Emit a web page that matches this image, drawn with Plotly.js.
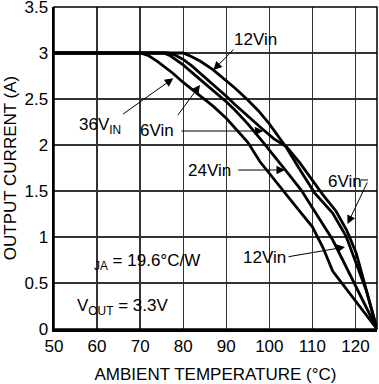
<!DOCTYPE html>
<html><head><meta charset="utf-8">
<script src="https://cdn.plot.ly/plotly-3.0.1.min.js"></script>
<style>html,body{margin:0;padding:0;background:#fff;} #chart{width:379px;height:384px;}</style>
</head><body><div id="chart"></div>
<script>
const xTickVals = [50, 60, 70, 80, 90, 100, 110, 120];
const yTickVals = [0, 0.5, 1, 1.5, 2, 2.5, 3, 3.5];
const yTickText = ['0', '0.5', '1', '1.5', '2', '2.5', '3', '3.5'];

const temp12Vin = [50, 80, 82, 84, 86.9, 90, 92, 95, 97.5, 100, 102, 104, 107, 110.5, 114.7, 117.8, 122.5, 125];
const curr12Vin = [3, 3, 2.96, 2.91, 2.82, 2.70, 2.62, 2.49, 2.37, 2.23, 2.10, 1.97, 1.74, 1.48, 1.26, 1.01, 0.42, 0];

const temp6Vin = [50, 76.5, 78, 80, 82, 84, 86, 88, 90, 92, 95, 98, 101, 104, 107, 110, 112.4, 115.5, 118, 120.2, 125];
const curr6Vin = [3, 3, 2.98, 2.93, 2.86, 2.78, 2.70, 2.62, 2.53, 2.44, 2.31, 2.19, 2.07, 1.98, 1.81, 1.61, 1.46, 1.28, 1.07, 0.82, 0];

const temp24Vin = [50, 75.5, 77, 80, 82, 84, 86, 88, 90, 92, 95, 98, 100, 103.7, 107.4, 111, 114.7, 125];
const curr24Vin = [3, 3, 2.97, 2.87, 2.79, 2.71, 2.63, 2.56, 2.47, 2.38, 2.23, 2.06, 1.94, 1.73, 1.51, 1.24, 0.97, 0];

const temp36Vin = [50, 70, 72, 74, 77.6, 80, 83.8, 87, 90, 93, 95, 97.8, 100, 103, 106, 110, 112.5, 114.7, 125];
const curr36Vin = [3, 3, 2.97, 2.91, 2.78, 2.68, 2.54, 2.42, 2.29, 2.14, 2.03, 1.82, 1.69, 1.51, 1.34, 1.11, 0.88, 0.63, 0];

const FONT = 'Liberation Sans, Arial, Helvetica, sans-serif';
const lineStyle = {color: '#000', width: 2.8};

const traces = [
  {x: temp12Vin, y: curr12Vin, name: '12Vin'},
  {x: temp6Vin, y: curr6Vin, name: '6Vin'},
  {x: temp24Vin, y: curr24Vin, name: '24Vin'},
  {x: temp36Vin, y: curr36Vin, name: '36Vin'}
].map(t => Object.assign(t, {type: 'scatter', mode: 'lines', line: lineStyle, hoverinfo: 'skip'}));

function label(text, x, y, extra) {
  return Object.assign({text: text, x: x, y: y, xref: 'x', yref: 'y', showarrow: false,
    font: {family: FONT, size: 17, color: '#000'}}, extra || {});
}
function arrow(tipX, tipY, tailX, tailY) {
  return {text: '', x: tipX, y: tipY, ax: tailX, ay: tailY, xref: 'x', yref: 'y', axref: 'x', ayref: 'y',
    showarrow: true, arrowhead: 2, arrowsize: 1.7, arrowwidth: 1, arrowcolor: '#000', standoff: 0, startstandoff: 0};
}

const annotations = [
  label('12Vin', 96.9, 3.152),
  arrow(87.0, 2.815, 92.03, 3.054),
  label('36V<sub>IN</sub>', 60.68, 2.207),
  arrow(77.7, 2.725, 65.72, 2.326),
  label('6Vin', 74.03, 2.163),
  arrow(83.9, 2.652, 78.49, 2.308),
  arrow(98.6, 2.152, 79.26, 2.152),
  label('24Vin', 85.99, 1.728),
  arrow(103.64, 1.728, 92.42, 1.728),
  label('6Vin', 117.57, 1.598),
  arrow(118.15, 1.141, 122.91, 1.609),
  label('12Vin', 98.99, 0.772),
  arrow(117.57, 0.891, 104.10, 0.783),
  label('<sub>JA</sub> = 19.6°C/W', 58.82, 0.728, {xanchor: 'left'}),
  label('V<sub>OUT</sub> = 3.3V', 54.88, 0.239, {xanchor: 'left'})
];

const layout = {
  width: 379, height: 384,
  margin: {l: 54, r: 2, t: 7, b: 55, pad: 0},
  paper_bgcolor: '#fff', plot_bgcolor: '#fff',
  showlegend: false,
  font: {family: FONT, size: 17, color: '#000'},
  xaxis: {
    range: [50, 125], tickvals: xTickVals, ticks: '', showgrid: true, gridcolor: '#333', gridwidth: 1.3,
    showline: true, linecolor: '#000', linewidth: 2.5, zeroline: false, fixedrange: true,
    ticklabeloverflow: 'allow',
    tickfont: {family: FONT, size: 17, color: '#000'},
    title: {text: 'AMBIENT TEMPERATURE (°C)', font: {family: FONT, size: 17, color: '#000'}, standoff: 13}
  },
  yaxis: {
    range: [0, 3.5], tickvals: yTickVals, ticktext: yTickText, ticks: '', showgrid: true, gridcolor: '#333', gridwidth: 1.3,
    showline: true, linecolor: '#000', linewidth: 2.5, zeroline: false, fixedrange: true,
    ticklabeloverflow: 'allow',
    tickfont: {family: FONT, size: 17, color: '#000'},
    title: {text: 'OUTPUT CURRENT (A)', font: {family: FONT, size: 17, color: '#000'}, standoff: 4}
  },
  shapes: [
    {type: 'rect', xref: 'paper', yref: 'paper', x0: 0, x1: 1, y0: 0, y1: 1, line: {color: '#000', width: 1.5}},
    {type: 'line', xref: 'x', yref: 'y', x0: 121.28, x1: 122.91, y0: 1.62, y1: 1.62, line: {color: '#000', width: 1}}
  ],
  annotations: annotations
};

Plotly.newPlot('chart', traces, layout, {displayModeBar: false, staticPlot: true});
</script>
</body></html>
